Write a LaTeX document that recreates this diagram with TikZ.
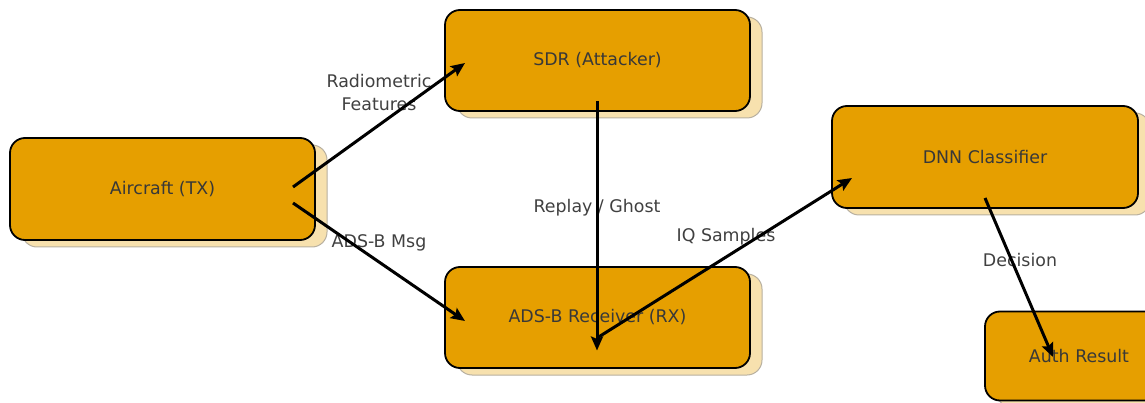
\documentclass[tikz,border=0pt]{standalone}
\usepackage{fontspec}
\setmainfont{DejaVu Sans}
\usetikzlibrary{calc,arrows.meta,shadows}
\definecolor{boxfill}{HTML}{E69F00}
\definecolor{shadowfill}{HTML}{F7E1AE}
\definecolor{shadowline}{HTML}{B8B0A0}
\definecolor{txt}{HTML}{383838}
\definecolor{labtxt}{HTML}{404040}
\tikzset{
  box/.style={draw=black, line width=1.8pt, fill=boxfill, rounded corners=15pt,
    inner sep=0pt, text=txt, font=\fontsize{17.4}{23}\selectfont,
    general shadow={shadow xshift=12pt, shadow yshift=-7pt, fill=shadowfill,
      draw=shadowline, line width=1pt}},
  lab/.style={text=labtxt, font=\fontsize{17.4}{23}\selectfont, align=center, inner sep=0pt},
  arr/.style={line width=3pt, draw=black, -{Stealth[length=14pt,width=12pt,inset=2.5pt]}}
}
\begin{document}
\begin{tikzpicture}[x=1pt,y=-1pt]
\useasboundingbox (0,0) rectangle (1145,403);
\clip (0,0) rectangle (1145,403);
% boxes
\node[box, minimum width=305pt, minimum height=102pt] (air) at (162.5,189) {Aircraft (TX)};
\node[box, minimum width=305pt, minimum height=101pt] (sdr) at (597.5,60.5) {SDR (Attacker)};
\node[box, minimum width=305pt, minimum height=101pt] (rx) at (597.5,317.5) {ADS-B Receiver (RX)};
\node[box, minimum width=306pt, minimum height=102pt] (dnn) at (985,157) {DNN Classifier};
\node[box, minimum width=188pt, minimum height=89pt] (auth) at (1079,356) {Auth Result};
% labels
\node[lab] (l1) at (379,93) {Radiometric\\Features};
\node[lab] (l2) at (379,243) {ADS-B Msg};
\node[lab] (l3) at (597,208) {Replay / Ghost};
\node[lab] (l4) at (726,237) {IQ Samples};
\node[lab] (l5) at (1020,260) {Decision};
% arrows
\draw[arr] ($(air.center)+(130.5,-2)$) -- ($(sdr.center)+(-132.5,2.5)$);
\draw[arr] ($(air.center)+(130.5,14)$) -- ($(rx.center)+(-132.5,3.5)$);
\draw[arr] ($(sdr.center)+(-0.5,40.5)$) -- ($(rx.center)+(-0.5,33)$);
\draw[arr] ($(rx.center)+(-0.5,20.5)$) -- ($(dnn.center)+(-133,21)$);
\draw[arr] ($(dnn.center)+(0,41)$) -- ($(auth.center)+(-26,1)$);
\end{tikzpicture}
\end{document}
